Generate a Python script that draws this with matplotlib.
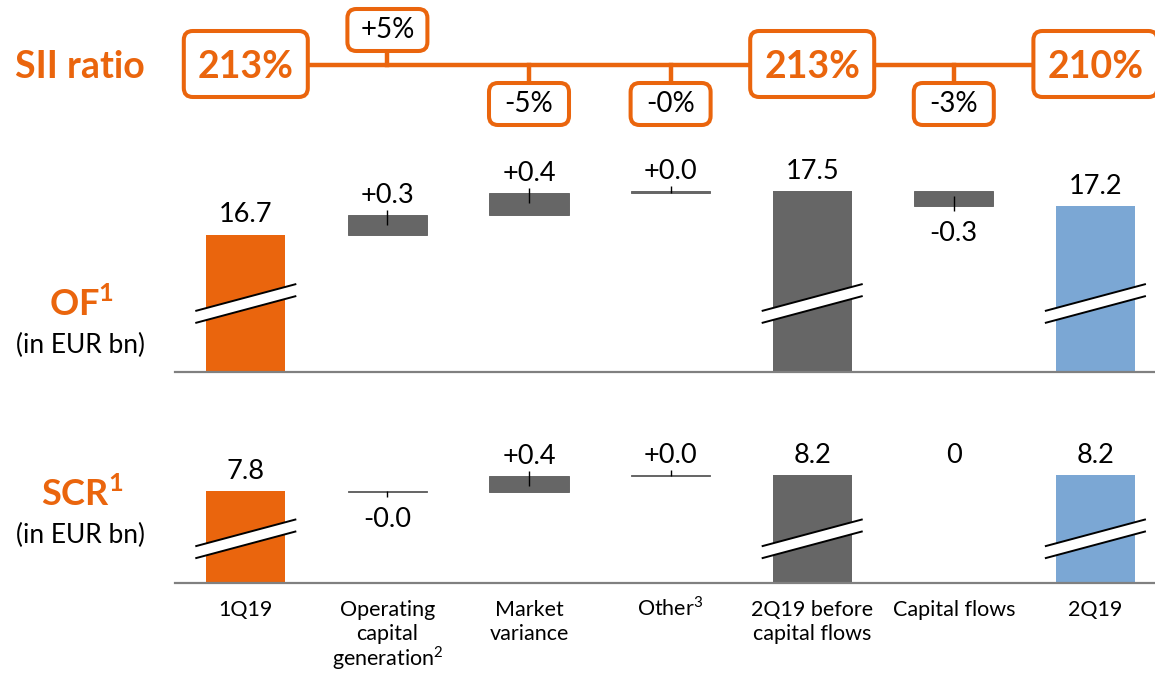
"""
SII ratio / OF / SCR waterfall, 1Q19 -> 2Q19.
"""

import matplotlib

matplotlib.use("Agg")
import matplotlib.pyplot as plt
from matplotlib.patches import FancyBboxPatch, Polygon

plt.rcParams["font.family"] = ["Lato", "DejaVu Sans"]
plt.rcParams["mathtext.fontset"] = "custom"
plt.rcParams["mathtext.rm"] = "Lato"
plt.rcParams["mathtext.bf"] = "Lato:bold"

# ---- data ----
categories = ["1Q19", "Operating\ncapital\ngeneration$^{2}$", "Market\nvariance", "Other$^{3}$",
              "2Q19 before\ncapital flows", "Capital flows", "2Q19"]
# totals start at the axis, the other steps float on the running total
is_total = [True, False, False, False, True, False, True]

sii_labels = ["213%", "+5%", "-5%", "-0%", "213%", "-3%", "210%"]

of_values = [16.70, 0.36, 0.40, 0.03, 17.49, -0.27, 17.22]
of_labels = ["16.7", "+0.3", "+0.4", "+0.0", "17.5", "-0.3", "17.2"]

scr_values = [7.80, -0.03, 0.40, 0.03, 8.20, 0.0, 8.20]
scr_labels = ["7.8", "-0.0", "+0.4", "+0.0", "8.2", "0", "8.2"]

# ---- style ----
ORANGE = "#EA650D"
GREY = "#666666"
BLUE = "#7BA7D4"
AXIS_GREY = "#808080"
bar_colors = [ORANGE, GREY, GREY, GREY, GREY, GREY, BLUE]

W, H = 1155, 676
X0, X1 = 175, 1155       # pixel span of the category axis
STEP = 141.6             # pixels per category
XLIM = (-0.5, -0.5 + (X1 - X0) / STEP)
PT = 0.72                # points per pixel at dpi 100
VAL_FS = 19.5

fig = plt.figure(figsize=(W / 100, H / 100), dpi=100)


def px_axes(left, top, right, bottom):
    """Axes placed by pixel box (y measured from the top)."""
    return fig.add_axes([left / W, 1 - bottom / H, (right - left) / W, (bottom - top) / H])


def waterfall(ax, values, labels, base, px_per_unit, break_mid):
    u = 1.0 / px_per_unit
    running = values[0]
    for i, v in enumerate(values):
        c = bar_colors[i]
        if is_total[i]:
            bottom, height = base, v - base
            running = v
        else:
            bottom, height = running, v
            running += v

        if height != 0:
            ax.bar(i, height, bottom=bottom, width=0.56, color=c,
                   edgecolor=c if not is_total[i] else "none",
                   linewidth=0.7, zorder=2)

        end = bottom + height
        if v < 0:
            ax.annotate(labels[i], (i, end), xytext=(0, -35 * PT), textcoords="offset points",
                        ha="center", va="baseline", fontsize=VAL_FS, annotation_clip=False)
        else:
            ax.annotate(labels[i], (i, end), xytext=(0, 12 * PT), textcoords="offset points",
                        ha="center", va="baseline", fontsize=VAL_FS, annotation_clip=False)

        # small tick at the end of each floating step
        if not is_total[i] and v != 0:
            inward = min(10, abs(v) * px_per_unit)
            if v > 0:
                ax.vlines(i, end - inward * u, end + 5 * u, color="black", lw=1, zorder=3)
            else:
                ax.vlines(i, end - 5 * u, end + inward * u, color="black", lw=1, zorder=3)

        # axis-break marks on the totals
        if is_total[i]:
            half = 50.5 / STEP
            rise, gap = 27, 12
            up = (break_mid + gap / 2 - rise / 2, break_mid + gap / 2 + rise / 2)
            lo = (break_mid - gap / 2 - rise / 2, break_mid - gap / 2 + rise / 2)
            xs = [i - half, i + half]
            poly = Polygon([(xs[0], base + lo[0] * u), (xs[1], base + lo[1] * u),
                            (xs[1], base + up[1] * u), (xs[0], base + up[0] * u)],
                           closed=True, facecolor="white", edgecolor="none", zorder=4)
            ax.add_patch(poly)
            ax.plot(xs, [base + up[0] * u, base + up[1] * u], color="black", lw=1.4, zorder=5,
                    solid_capstyle="butt")
            ax.plot(xs, [base + lo[0] * u, base + lo[1] * u], color="black", lw=1.4, zorder=5,
                    solid_capstyle="butt")

    ax.set_xlim(XLIM)
    for s in ["top", "left", "right"]:
        ax.spines[s].set_visible(False)
    ax.spines["bottom"].set_color(AXIS_GREY)
    ax.spines["bottom"].set_linewidth(1.6)
    ax.set_yticks([])
    ax.set_xticks([])


# OF panel: axis line at y=372 px, 55 px per bn
of_top, of_bottom, of_scale, of_base = 150, 372, 55, 14.2
ax_of = px_axes(X0, of_top, X1, of_bottom)
ax_of.set_ylim(of_base, of_base + (of_bottom - of_top) / of_scale)
waterfall(ax_of, of_values, of_labels, of_base, of_scale, 68.5)

# SCR panel: axis line at y=583 px, 40 px per bn
scr_top, scr_bottom, scr_scale, scr_base = 420, 583, 40, 5.5
ax_scr = px_axes(X0, scr_top, X1, scr_bottom)
ax_scr.set_ylim(scr_base, scr_base + (scr_bottom - scr_top) / scr_scale)
waterfall(ax_scr, scr_values, scr_labels, scr_base, scr_scale, 44.2)

# category names under the SCR axis, one baseline per line so superscripts don't shift rows
for i, name in enumerate(categories):
    for k, line in enumerate(name.split("\n")):
        ax_scr.annotate(line, (i, scr_base), xytext=(0, -(33 + 24.5 * k) * PT),
                        textcoords="offset points", ha="center", va="baseline",
                        fontsize=15.5, annotation_clip=False)

# SII ratio strip on top, equal pixel scale in x and y
TOP_H = 140
ax_top = px_axes(X0, 0, X1, TOP_H)
ax_top.set_xlim(XLIM)
ax_top.set_ylim(0, TOP_H / STEP)
ax_top.axis("off")
S = 1.0 / STEP


def py(p):
    return (TOP_H - p) * S


ax_top.plot([0, len(sii_labels) - 1], [py(65), py(65)], color=ORANGE, lw=3.2, zorder=1)
for i, lab in enumerate(sii_labels):
    if is_total[i]:
        w, h, cy = 124, 66, 64
        ax_top.text(i, py(cy + 14), lab, ha="center", va="baseline", fontsize=27,
                    fontweight="bold", color=ORANGE, zorder=4)
    else:
        w, h = 80, 42
        cy = 30 if lab.startswith("+") else 104
        edge = cy + h / 2 + 2 if cy < 65 else cy - h / 2 - 2
        ax_top.plot([i, i], [py(65), py(edge)], color=ORANGE, lw=3.2, zorder=1)
        ax_top.text(i, py(cy + 8), lab, ha="center", va="baseline", fontsize=20,
                    color="black", zorder=4)
    box = FancyBboxPatch((i - w / 2 * S, py(cy + h / 2)), w * S, h * S,
                         boxstyle="round,pad=0,rounding_size=%f" % (9 * S),
                         facecolor="white", edgecolor=ORANGE, linewidth=2.9, zorder=3)
    ax_top.add_patch(box)

# row titles
fig.text(15 / W, 1 - 78.5 / H, "SII ratio", ha="left", va="baseline", fontsize=27,
         fontweight="bold", color=ORANGE)
fig.text(82 / W, 1 - 316 / H, r"OF$^{\mathbf{1}}$", ha="center", va="baseline", fontsize=26,
         fontweight="bold", color=ORANGE)
fig.text(81 / W, 1 - 353 / H, "(in EUR bn)", ha="center", va="baseline", fontsize=19)
fig.text(82 / W, 1 - 506 / H, r"SCR$^{\mathbf{1}}$", ha="center", va="baseline", fontsize=26,
         fontweight="bold", color=ORANGE)
fig.text(81 / W, 1 - 543 / H, "(in EUR bn)", ha="center", va="baseline", fontsize=19)

fig.savefig("out.png", dpi=100)
